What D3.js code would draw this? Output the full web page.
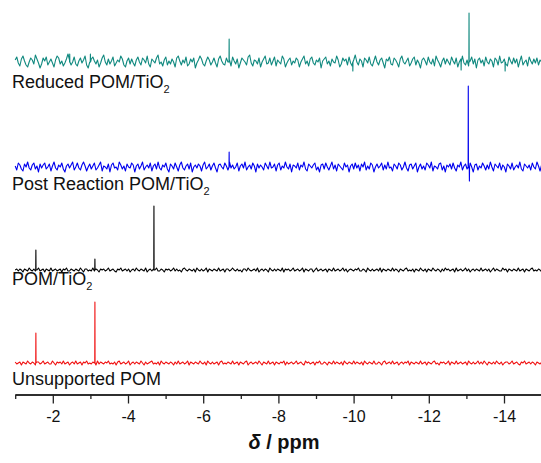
<!DOCTYPE html>
<html lang="en">
<head>
<meta charset="UTF-8">
<title>31P NMR spectra</title>
<script src="https://d3js.org/d3.v7.min.js"></script>
<style>
  body { margin: 0; background: #fff; }
  svg { display: block; font-family: Arial, "Liberation Sans", sans-serif; }
</style>
</head>
<body>
<div id="chart"></div>
<script>
// chemical shift axis
const ppmStart = -1;
const ppmEnd = -15;
const majorTicks = [-2, -4, -6, -8, -10, -12, -14];
const minorTicks = [-1, -3, -5, -7, -9, -11, -13, -15];

// trace names (top to bottom) and vertical offsets (intensity units)
const traceNames = ["Reduced POM/TiO", "Post Reaction POM/TiO", "POM/TiO", "Unsupported POM"];
const traceSubs = ["2", "2", "2", ""];
const traceOffsets = [301, 196, 93, 0];

// peaks: [ppm, intensity]; negative = dip
const reducedPeaks = [[-6.69, 23], [-13.07, 49], [-12.86, -8], [-9.98, -9], [-14.03, -9], [-2.45, 8], [-3.0, 8]];
const postPeaks = [[-6.69, 15], [-13.05, 81], [-13.08, -14]];
const pomTiPeaks = [[-1.55, 20], [-3.12, 11], [-4.69, 64]];
const unsupPeaks = [[-1.55, 30], [-3.12, 61]];

const reducedNoise = [
  2,5,-1,-4,3,6,1,-3,-5,0,4,2,-2,7,3,-1,-6,-2,4,1,
  5,-3,0,3,-1,-5,2,6,4,-2,1,-4,-1,3,8,2,-3,0,5,-2,
  -4,1,4,-1,2,6,-3,-6,0,3,5,1,-2,2,-5,-1,4,7,0,-3,
  3,-2,1,5,-4,-1,2,0,6,3,-3,-5,1,4,-2,3,-1,-4,2,5,
  0,-3,4,2,-1,6,-2,-5,3,1,-1,4,7,-2,0,-4,2,5,-3,1,
  -2,3,0,-5,4,6,1,-3,2,-1,5,-4,-2,3,0,4,-6,-1,2,6,
  3,-2,-4,1,5,2,-3,0,4,-1,-5,3,6,1,-2,-3,4,0,2,-4,
  5,1,-2,3,-6,-1,4,2,0,-3,5,7,-1,-4,2,1,-2,4,-5,0,
  3,6,-2,-1,4,-3,1,5,-4,2,0,-2,6,3,-5,-1,2,4,-3,1,
  -1,4,2,-5,0,3,6,-2,1,-4,3,5,-1,-3,2,0,4,-6,1,3,
  5,-2,1,-4,3,0,-1,6,2,-5,-2,4,1,3,-3,5,-1,-4,2,7,
  0,-3,3,1,-5,4,2,-1,5,-2,-4,1,6,0,-3,2,4,-1,-6,3,
  1,5,-2,-3,4,2,-1,-5,3,6,0,-2,1,4,-4,-1,3,5,-3,2,
  -1,-6,2,4,1,-3,5,0,-2,3,-4,6,2,-1,-5,1,4,-2,3,0,
  -3,5,1,-2,4,-5,0,3,6,-1,-3,2,-4,1,5,-2,3,-6,2,4,
  -1,2,-4,5,0,-2,3,1,-5,4,2,-3,6,-1,0,3,-2,-4,5,1,
  -2,4,-1,3,-5,1,6,-3,0,2,-4,5,1,-2,3,-1,4,-3,2,0
];
const postNoise = [
  1,-3,4,2,-2,-4,3,0,5,-1,-3,2,4,-2,1,-5,3,-1,2,4,
  -2,0,3,-4,1,5,-1,-3,2,0,4,-2,-5,1,3,-1,2,5,-3,0,
  4,-1,-3,2,5,1,-4,0,3,-2,1,4,-3,-1,2,5,-4,1,0,-2,
  3,-5,2,4,-1,0,-3,5,2,-2,1,-4,3,0,-1,4,2,-5,1,3,
  -2,1,5,-3,0,2,-1,4,-4,1,3,-2,5,-1,-3,2,0,4,-2,-5,
  3,1,-2,4,0,-4,2,5,-1,-3,1,3,-2,4,-5,0,2,-1,3,1,
  -4,2,5,-2,0,3,-3,1,4,-1,-5,2,3,0,-2,4,1,-3,5,-1,
  2,-2,0,4,-4,1,3,-1,5,-3,0,2,-2,4,1,-5,3,-1,2,0,
  -3,4,1,-2,5,-1,0,3,-4,2,4,-3,1,-1,5,0,-2,3,-5,2,
  1,-1,4,-3,2,0,5,-2,-4,3,1,-1,2,4,-3,0,-5,2,3,-2,
  4,0,-3,1,5,-2,2,-4,3,1,-1,-3,4,0,2,-5,1,3,-2,4,
  -1,2,-4,3,0,5,-3,1,-2,4,2,-5,0,3,-1,1,4,-3,2,-2,
  5,-1,0,-4,3,1,-2,4,2,-3,0,5,-1,-4,2,3,-2,1,4,-5,
  0,3,-2,1,-3,4,2,-1,5,-4,1,0,-2,3,4,-3,1,-5,2,0,
  3,-2,4,-1,-4,2,0,5,-3,1,3,-2,-1,4,0,-5,2,3,-3,1,
  -1,4,1,-3,2,-2,5,0,-4,3,1,-1,4,-3,2,0,-5,3,1,-2,
  4,-3,0,2,-1,5,-2,-4,3,1,-1,2,-3,4,0,-2,5,1,-4,2
];
const pomTiNoise = [
  0,1,-1,1,0,-2,1,0,-1,2,0,-1,1,-1,0,2,-1,0,1,-2,
  1,0,-1,2,-1,0,1,-1,0,1,-2,1,0,2,-1,-1,1,0,-1,1,
  0,-1,2,0,-2,1,1,-1,0,-1,2,-1,1,0,-2,1,0,1,-1,0,
  2,-1,0,1,-1,-2,1,0,2,-1,0,1,-1,1,-2,0,1,-1,2,0,
  -1,1,0,-1,2,-2,0,1,-1,1,0,2,-1,-1,1,0,-2,1,0,1,
  -1,0,2,-1,1,-1,0,-2,1,2,0,-1,1,0,-1,1,-2,2,0,-1,
  1,-1,0,2,-2,1,0,-1,1,0,-1,2,-1,0,1,-2,1,1,-1,0,
  2,0,-1,1,-1,0,-2,1,1,-1,2,0,-1,0,1,-1,2,-2,0,1,
  -1,1,0,-2,2,0,-1,1,-1,1,0,-1,2,-2,1,0,1,-1,0,2,
  -1,0,1,-1,0,2,-2,1,0,-1,1,1,-2,0,2,-1,0,1,-1,0,
  1,-2,1,0,-1,2,-1,0,1,-1,0,2,-1,1,-2,0,1,0,-1,1,
  0,2,-1,-1,1,0,-2,2,0,-1,1,-1,0,1,-1,2,-2,1,0,-1,
  1,0,-1,2,-1,1,0,-2,1,0,-1,1,2,-1,0,-1,1,-2,1,0,
  -1,2,0,-1,1,-2,1,0,-1,2,0,-1,1,0,-2,1,-1,2,0,1,
  -1,0,1,-2,2,-1,0,1,-1,0,2,-1,1,-2,0,1,-1,1,0,-1,
  2,-1,0,1,-1,1,-2,0,2,-1,1,0,-1,-1,2,0,1,-2,1,0,
  -1,1,0,-1,2,-1,0,1,-2,1,0,-1,1,2,-1,0,-1,1,0,-2
];
const unsupNoise = [
  1,-1,0,1,-2,1,0,-1,2,0,-1,1,0,-2,1,1,-1,0,2,-1,
  0,1,-1,-1,2,0,-2,1,0,1,-1,2,-1,0,1,-2,0,1,-1,2,
  -1,0,1,-2,1,0,2,-1,0,-1,1,0,-2,2,-1,1,0,-1,1,0,
  2,-1,0,-1,1,-2,1,2,-1,0,1,-1,0,2,-2,0,1,-1,1,0,
  -1,2,0,-2,1,-1,0,1,2,-1,0,-1,1,-2,2,0,-1,1,0,-1,
  1,0,-2,1,-1,2,-1,0,1,-1,0,2,-2,1,0,-1,1,0,-1,2,
  0,-1,1,-2,2,0,-1,1,-1,0,1,-2,1,2,-1,0,-1,1,0,-1,
  2,-1,0,1,-2,1,0,-1,1,2,-2,0,1,-1,0,1,-1,2,0,-2,
  1,0,-1,2,-1,0,1,-2,1,0,-1,1,0,2,-2,1,-1,0,1,-1,
  0,2,-1,0,1,-1,-2,2,0,1,-1,0,1,-2,1,0,2,-1,-1,1,
  0,-2,1,0,-1,2,-1,1,0,-1,1,-2,2,0,-1,1,0,-1,2,-1,
  1,0,-1,1,-2,2,0,-1,1,0,-1,2,-1,-1,1,0,-2,1,2,-1,
  0,1,-1,2,-1,0,1,-2,0,1,-1,1,0,2,-2,1,0,-1,1,0,
  -1,2,-1,0,1,-2,1,0,-1,1,2,-1,0,-2,1,0,1,-1,0,2,
  -2,1,0,-1,2,-1,0,1,-1,0,1,-2,2,0,-1,1,-1,0,2,-1,
  1,-1,2,0,-2,1,0,-1,1,-1,2,0,-1,1,-2,0,1,1,-1,0,
  2,-1,0,1,-1,-2,1,0,2,-1,0,1,-1,1,0,-2,1,0,-1,1
];

const traceNoise = [reducedNoise, postNoise, pomTiNoise, unsupNoise];
const tracePeaks = [reducedPeaks, postPeaks, pomTiPeaks, unsupPeaks];
const traceColors = ["#10897f", "#0000ee", "#000000", "#f01010"];

const W = 541, H = 463;
const svg = d3.select("#chart").append("svg")
  .attr("width", W)
  .attr("height", H);

const x = d3.scaleLinear().domain([ppmStart, ppmEnd]).range([15.2, 541.6]);
const y = d3.scaleLinear().domain([0, 363]).range([363, 0]);

const line = d3.line()
  .x(d => x(d[0]))
  .y(d => y(d[1]));

traceNames.forEach((name, k) => {
  const noise = traceNoise[k];
  const off = traceOffsets[k];
  const idx = d3.scaleLinear().domain([0, noise.length - 1]).range([ppmStart, ppmEnd]);
  let pts = noise.map((v, i) => [idx(i), off + v]);
  tracePeaks[k].forEach(p => {
    pts.push([p[0] + 0.004, off], [p[0], off + p[1]], [p[0] - 0.004, off]);
  });
  pts.sort((a, b) => x(a[0]) - x(b[0]));

  svg.append("path")
    .datum(pts)
    .attr("fill", "none")
    .attr("stroke", traceColors[k])
    .attr("stroke-width", 1.1)
    .attr("stroke-linejoin", "round")
    .attr("d", line);
});

// trace labels
const labelBaselines = [88, 190, 285, 385];
traceNames.forEach((name, k) => {
  const t = svg.append("text")
    .attr("x", 12)
    .attr("y", labelBaselines[k])
    .attr("font-size", 18)
    .attr("fill", "#111")
    .text(name);
  if (traceSubs[k]) {
    t.append("tspan")
      .attr("font-size", 11)
      .attr("dy", 5)
      .text(traceSubs[k]);
  }
});

// x axis
const axisY = 394.5;
const gMinor = svg.append("g")
  .attr("transform", `translate(0,${axisY})`)
  .call(d3.axisBottom(x).tickValues(minorTicks).tickSize(4.5).tickSizeOuter(0).tickFormat(""));
const gMajor = svg.append("g")
  .attr("transform", `translate(0,${axisY})`)
  .call(d3.axisBottom(x).tickValues(majorTicks).tickSize(9).tickSizeOuter(0).tickPadding(7).tickFormat(d => String(d)));

[gMinor, gMajor].forEach(g => {
  g.selectAll("path, line").attr("stroke", "#222").attr("stroke-width", 1.3);
});
gMajor.selectAll("text")
  .attr("font-size", 16)
  .attr("font-family", "Arial, 'Liberation Sans', sans-serif")
  .attr("fill", "#111");

const title = svg.append("text")
  .attr("x", 284)
  .attr("y", 449)
  .attr("text-anchor", "middle")
  .attr("font-size", 20)
  .attr("font-weight", "bold")
  .attr("fill", "#111");
title.append("tspan").attr("font-style", "italic").text("δ");
title.append("tspan").text(" / ppm");
</script>
</body>
</html>
